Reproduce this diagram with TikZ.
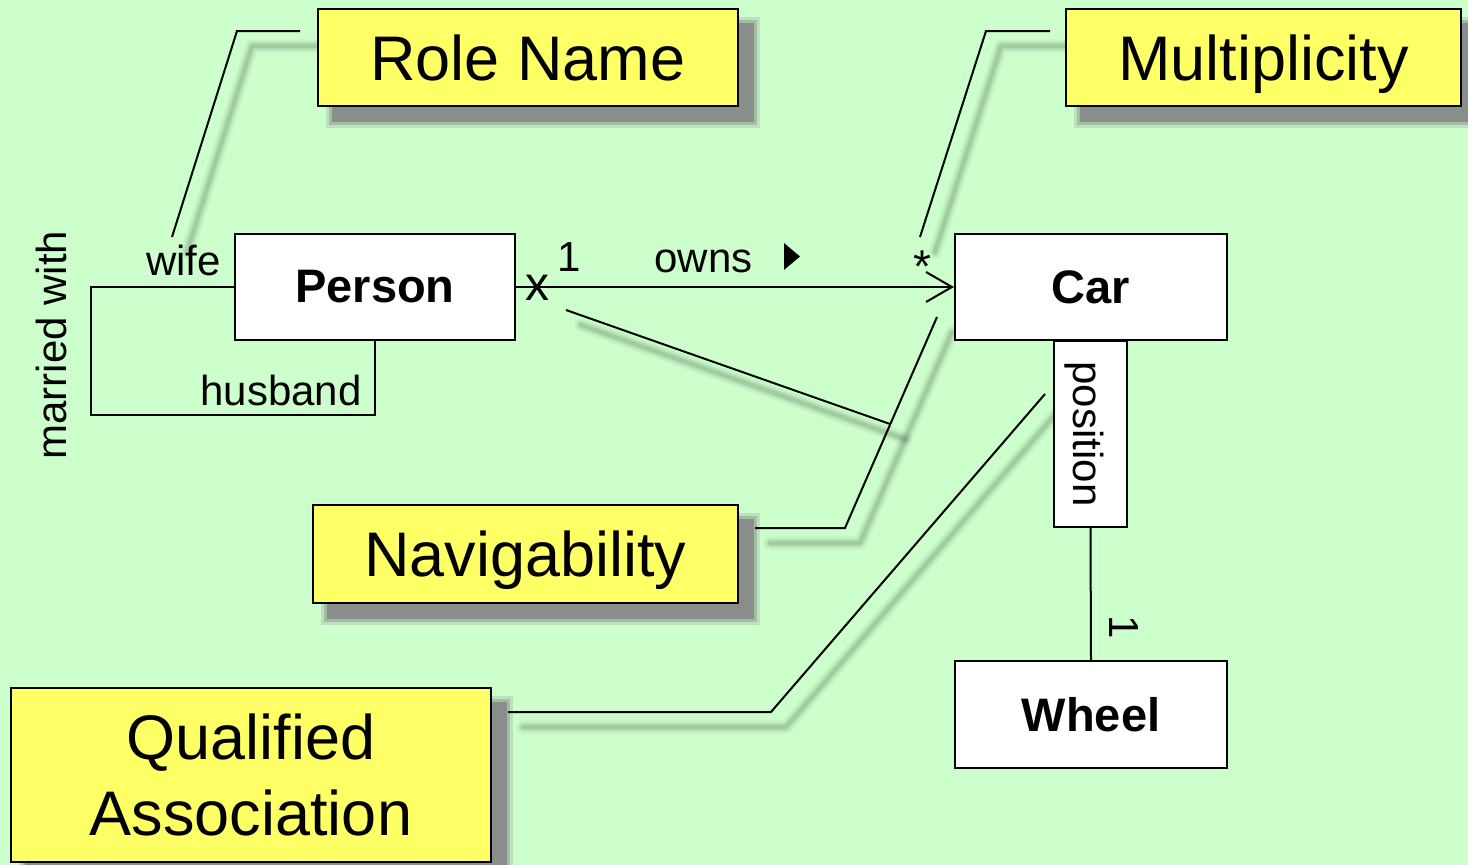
\documentclass[tikz,border=0pt]{standalone}
\usepackage{fontspec}
\setmainfont{Liberation Sans}
\usetikzlibrary{arrows.meta}
\definecolor{bgc}{HTML}{CCFFCC}
\definecolor{notec}{HTML}{FFFF66}
\definecolor{shc}{HTML}{8A8E8A}
\pgfdeclarelayer{background}
\pgfsetlayers{background,main}
\begin{document}
\begin{tikzpicture}[x=1pt,y=-1pt,
  cls/.style={draw, line width=2pt, fill=white, inner sep=0pt, font=\fontsize{47}{56}\selectfont\bfseries},
  notebox/.style={draw, line width=2.2pt, fill=notec, inner sep=0pt, font=\fontsize{63}{76}\selectfont, align=center},
  lbl/.style={font=\fontsize{42}{50}\selectfont, inner sep=0pt},
  link/.style={line width=2pt, line join=miter},
  shadowline/.style={line width=#1, line join=round, line cap=round}]
\useasboundingbox (0,0) rectangle (1468,865);

% classes
\node[cls, minimum width=280pt, minimum height=106pt] (person) at (375,287) {Person};
\node[cls, minimum width=272pt, minimum height=106pt] (car) at (1091,287) {Car};
\node[cls, minimum width=272pt, minimum height=107pt] (wheel) at (1091,714.5) {Wheel};
\node[draw, line width=2pt, fill=white, minimum width=73pt, minimum height=186pt, inner sep=0pt] (pos) at (1090.5,434) {};
\node[lbl, rotate=-90] (postext) at (1084,434) {position};

% notes
\node[notebox, text depth=0pt, minimum width=420pt, minimum height=97pt] (rn) at (528,57.5) {Role Name};
\node[notebox, text depth=0pt, minimum width=395pt, minimum height=97pt] (mu) at (1263.5,57.5) {Multiplicity};
\node[notebox, text depth=0pt, minimum width=425pt, minimum height=98pt] (nv) at (525.5,554) {Navigability};
\node[notebox, minimum width=480pt, minimum height=174pt] (qa) at (251,775) {Qualified\\Association};

% callout points
\coordinate (rnA) at (300,31);
\coordinate (rnB) at (237,31);
\coordinate (rnC) at (172,237);
\coordinate (muA) at (1050,31);
\coordinate (muB) at (986,31);
\coordinate (muC) at (920,237);
\coordinate (nvA) at (755,528);
\coordinate (nvB) at (845,528);
\coordinate (nvC) at (937,317);
\coordinate (nvD) at (566,310);
\coordinate (nvJ) at (890,424);
\coordinate (qaA) at (508,712);
\coordinate (qaB) at (771,712);
\coordinate (qaC) at (1045,394);
\coordinate (saA) at (91,287);
\coordinate (saB) at (91,415);

\begin{pgfonlayer}{background}
\fill[bgc] (0,0) rectangle (1468,865);
\foreach \n in {rn,mu,nv,qa}{
  \fill[shc,opacity=0.25] ([shift={(9,9)}]\n.north west) rectangle ([shift={(21,21)}]\n.south east);
  \fill[shc,opacity=0.45] ([shift={(12,12)}]\n.north west) rectangle ([shift={(18,18)}]\n.south east);
  \fill[shc] ([shift={(15,15)}]\n.north west) rectangle ([shift={(15,15)}]\n.south east);
}
\foreach \w/\o in {13/0.05,8/0.07,4/0.09}{
  \draw[shadowline=\w pt, opacity=\o] ([shift={(15,15)}]rnA) -- ([shift={(15,15)}]rnB) -- ([shift={(15,15)}]rnC);
  \draw[shadowline=\w pt, opacity=\o] ([shift={(15,15)}]muA) -- ([shift={(15,15)}]muB) -- ([shift={(15,15)}]muC);
  \draw[shadowline=\w pt, opacity=\o] ([shift={(15,15)}]nvA) -- ([shift={(15,15)}]nvB) -- ([shift={(15,15)}]nvC);
  \draw[shadowline=\w pt, opacity=\o] ([shift={(15,15)}]nvD) -- ([shift={(15,15)}]nvJ);
  \draw[shadowline=\w pt, opacity=\o] ([shift={(15,15)}]qaA) -- ([shift={(15,15)}]qaB) -- ([shift={(15,15)}]qaC);
}
\end{pgfonlayer}

% callout lines
\draw[link] (rnA) -- (rnB) -- (rnC);
\draw[link] (muA) -- (muB) -- (muC);
\draw[link] (nvA) -- (nvB) -- (nvC);
\draw[link] (nvD) -- (nvJ);
\draw[link] (qaA) -- (qaB) -- (qaC);

% associations
\draw[link, -{Straight Barb[length=26pt, width=30pt]}] (person.east) -- (car.west);
\draw[link] (person.west) -- (saA) -- (saB) -- (saB -| person.south) -- (person.south);
\draw[link] (pos.south) -- (wheel.north);

% labels
\node[lbl, anchor=base] (wife) at (183.5,275) {wife};
\node[lbl, anchor=base] (husband) at (281,405) {husband};
\node[lbl, rotate=90] (married) at (51,345) {married with};
\node[lbl, font=\fontsize{48}{50}\selectfont] (xmark) at (537,288) {x};
\node[lbl, anchor=base] (one) at (569,271) {1};
\node[lbl, anchor=base] (owns) at (703.5,272) {owns};
\fill (784,243) -- (800,256.5) -- (784,270) -- cycle;
\node[lbl, anchor=base, font=\fontsize{46}{50}\selectfont] (star) at (922,282) {*};
\node[lbl, rotate=-90] (onew) at (1124,627) {1};
\end{tikzpicture}
\end{document}
